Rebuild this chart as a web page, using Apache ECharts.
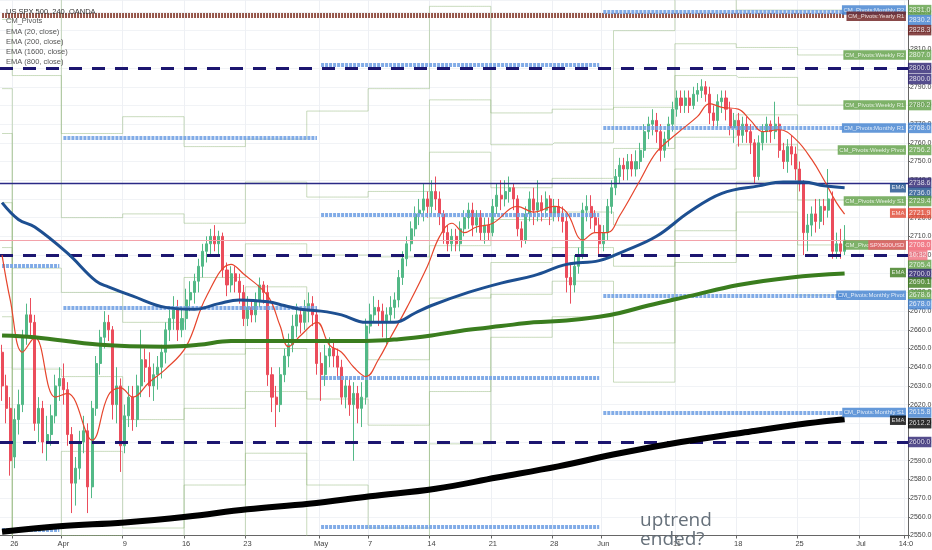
<!DOCTYPE html>
<html>
<head>
<meta charset="utf-8">
<title>US SPX 500, 240, OANDA</title>
<script src="https://cdn.jsdelivr.net/npm/echarts/dist/echarts.min.js"></script>
<style>
  html, body { margin: 0; padding: 0; background: #fff; }
  #chart { width: 932px; height: 550px; }
</style>
</head>
<body>
<div id="chart"></div>
<script>
//----- SPX500 4h chart with CM_Pivots and EMAs

// time axis: 3 bars per trading day, Mar 23 .. Jul 5 (222 bars)
var barCount = 222;
var tickBars = [3, 15, 30, 45, 60, 78, 90, 105, 120, 135, 147, 165, 180, 195, 210, 221];
var tickNames = ['26', 'Apr', '9', '16', '23', 'May', '7', '14', '21', '28', 'Jun', '11', '18', '25', 'Jul', '14:0'];

// [open, close, low, high], one line per trading day
var candles = [
  [2648,2630,2622,2652],[2630,2618,2610,2636],[2618,2590,2582,2624], // Mar 23
  [2592,2612,2586,2618],[2612,2620,2604,2628],[2620,2656,2616,2660], // Mar 26
  [2656,2668,2652,2674],[2668,2664,2656,2677],[2664,2610,2606,2668],
  [2610,2618,2600,2624],[2618,2600,2594,2622],[2600,2604,2590,2614],
  [2604,2614,2598,2620],[2614,2630,2610,2636],[2630,2634,2622,2640],
  [2634,2628,2620,2642],[2628,2604,2598,2632],[2604,2578,2562,2608], // Apr 2
  [2578,2586,2566,2592],[2586,2600,2580,2606],[2600,2606,2594,2614],
  [2606,2576,2562,2610],[2576,2618,2570,2622],[2618,2642,2614,2646],
  [2642,2656,2636,2660],[2656,2664,2650,2670],[2664,2660,2654,2668],
  [2660,2620,2612,2662],[2620,2630,2610,2640],[2630,2598,2584,2634],
  [2598,2614,2594,2620],[2614,2624,2608,2630],[2624,2612,2606,2630], // Apr 9
  [2612,2630,2608,2636],[2630,2644,2624,2660],[2644,2640,2632,2650],
  [2640,2630,2624,2648],[2630,2636,2622,2642],[2636,2640,2628,2646],
  [2640,2648,2634,2652],[2648,2660,2642,2664],[2660,2666,2654,2672],
  [2666,2672,2660,2678],[2672,2660,2654,2676],[2660,2666,2656,2672],
  [2666,2676,2660,2682],[2676,2680,2670,2686],[2680,2686,2674,2690], // Apr 16
  [2686,2694,2680,2698],[2694,2702,2688,2706],[2702,2706,2696,2710],
  [2706,2710,2700,2714],[2710,2706,2702,2716],[2706,2710,2700,2713],
  [2710,2692,2688,2712],[2692,2684,2678,2696],[2684,2690,2680,2694],
  [2690,2686,2680,2694],[2686,2680,2674,2690],[2680,2666,2662,2684],
  [2666,2672,2662,2678],[2672,2668,2664,2676],[2668,2676,2664,2680], // Apr 23
  [2676,2684,2672,2688],[2684,2680,2674,2686],[2680,2636,2630,2684],
  [2636,2624,2616,2640],[2624,2620,2608,2630],[2620,2636,2616,2640],
  [2636,2646,2632,2650],[2646,2652,2640,2658],[2652,2662,2648,2668],
  [2662,2668,2656,2674],[2668,2664,2658,2672],[2664,2670,2660,2676],
  [2670,2674,2664,2680],[2674,2668,2662,2678],[2668,2642,2636,2672], // Apr 30
  [2642,2636,2622,2648],[2636,2646,2630,2652],[2646,2650,2640,2656],
  [2650,2646,2640,2654],[2646,2640,2634,2650],[2640,2624,2620,2644],
  [2624,2630,2618,2634],[2630,2620,2614,2634],[2620,2626,2590,2632],
  [2626,2618,2610,2630],[2618,2624,2608,2632],[2624,2662,2620,2666],
  [2662,2668,2658,2674],[2668,2672,2664,2678],[2672,2670,2662,2676], // May 7
  [2670,2664,2656,2674],[2664,2668,2652,2672],[2668,2672,2664,2678],
  [2672,2676,2666,2680],[2676,2688,2672,2692],[2688,2698,2684,2702],
  [2698,2706,2694,2710],[2706,2714,2702,2718],[2714,2722,2710,2726],
  [2722,2724,2716,2730],[2724,2730,2718,2738],[2730,2726,2720,2734],
  [2726,2734,2722,2740],[2734,2730,2724,2742],[2730,2722,2716,2734], // May 14
  [2722,2712,2706,2724],[2712,2706,2702,2716],[2706,2710,2702,2714],
  [2710,2706,2702,2714],[2706,2714,2702,2718],[2714,2720,2710,2724],
  [2720,2724,2714,2728],[2724,2716,2710,2728],[2716,2720,2712,2724],
  [2720,2712,2708,2724],[2712,2716,2706,2720],[2716,2712,2708,2720],
  [2712,2726,2710,2730],[2726,2732,2722,2738],[2732,2730,2724,2740], // May 21
  [2730,2734,2726,2740],[2734,2736,2728,2742],[2736,2730,2724,2738],
  [2730,2714,2710,2732],[2714,2708,2704,2718],[2708,2722,2706,2726],
  [2722,2730,2718,2734],[2730,2724,2716,2736],[2724,2728,2718,2740],
  [2728,2724,2718,2732],[2724,2730,2720,2734],[2730,2722,2716,2732],
  [2722,2726,2718,2730],[2726,2722,2718,2730],[2722,2718,2712,2726], // May 28
  [2718,2688,2680,2722],[2688,2684,2674,2696],[2684,2694,2680,2700],
  [2694,2700,2690,2704],[2700,2724,2698,2728],[2724,2726,2718,2732],
  [2726,2720,2714,2732],[2720,2716,2712,2724],[2716,2706,2700,2720],
  [2706,2712,2702,2716],[2712,2726,2708,2730],[2726,2736,2722,2740],
  [2736,2742,2732,2746],[2742,2748,2738,2752],[2748,2746,2740,2752], // Jun 4
  [2746,2750,2740,2754],[2750,2746,2742,2754],[2746,2750,2742,2756],
  [2750,2756,2746,2760],[2756,2766,2752,2770],[2766,2770,2762,2774],
  [2770,2772,2764,2778],[2772,2766,2760,2776],[2766,2756,2750,2770],
  [2756,2762,2752,2766],[2762,2770,2758,2774],[2770,2778,2766,2782],
  [2778,2784,2774,2788],[2784,2780,2776,2788],[2780,2784,2776,2788], // Jun 11
  [2784,2780,2776,2788],[2780,2786,2778,2790],[2786,2788,2782,2792],
  [2788,2790,2784,2794],[2790,2786,2782,2793],[2786,2776,2770,2790],
  [2776,2772,2768,2780],[2772,2782,2768,2786],[2782,2784,2776,2788],
  [2784,2778,2772,2788],[2778,2768,2764,2782],[2768,2772,2760,2776],
  [2772,2764,2758,2776],[2764,2770,2760,2774],[2770,2766,2760,2774], // Jun 18
  [2766,2760,2754,2770],[2760,2742,2738,2762],[2742,2760,2740,2764],
  [2760,2766,2756,2770],[2766,2770,2760,2774],[2770,2766,2760,2772],
  [2766,2770,2762,2782],[2770,2756,2752,2774],[2756,2750,2746,2760],
  [2750,2758,2744,2762],[2758,2754,2748,2764],[2754,2746,2740,2758],
  [2746,2738,2734,2750],[2738,2712,2700,2740],[2712,2716,2702,2722], // Jun 25
  [2716,2722,2710,2726],[2722,2718,2712,2730],[2718,2726,2714,2730],
  [2726,2724,2716,2730],[2724,2730,2720,2746],[2730,2702,2698,2734],
  [2702,2706,2698,2712],[2706,2702,2698,2714],[2702,2708,2700,2716]
];

// EMA readings [bar, price]
var ema20 = [[0,2700],[2,2676],[5,2648],[8,2656],[13,2624],[16,2626],[22,2601],[26,2625],[29,2629],[32,2624],
  [36,2632],[40,2639],[45,2651],[50,2678],[56,2695],[59,2690],[65,2678],[68,2662],[70,2651],[73,2657],
  [77,2664],[80,2652],[83,2648],[86,2640],[89,2635],[92,2644],[95,2656],[99,2672],[104,2694],[107,2710],
  [110,2717],[113,2712],[116,2715],[120,2717],[126,2726],[130,2723],[135,2726],[138,2723],[142,2708],[145,2712],
  [148,2712],[151,2721],[156,2740],[160,2755],[165,2765],[170,2774],[173,2781],[176,2779],[180,2778],[183,2772],
  [186,2766],[190,2767],[194,2762],[198,2751],[201,2740],[204,2728],[206,2721.9]];
var ema200 = [[0,2728],[4,2719],[8,2715],[16,2701],[23,2686],[26,2683],[32,2678],[40,2672],[47,2671],[53,2674],
  [58,2676],[65,2675],[69,2673],[73,2671],[78,2670],[83,2668],[89,2664],[96,2664],[101,2669],[105,2673],
  [114,2680],[122,2685],[130,2689],[138,2695],[146,2697],[152,2702],[160,2710],[168,2723],[176,2733],[185,2737],
  [191,2739],[196,2739],[201,2737],[206,2736.0]];
var ema800 = [[0,2657],[8,2656],[24,2652],[40,2651],[48,2652],[56,2654],[73,2654],[89,2654],[97,2655],[105,2657],
  [114,2660],[122,2662],[130,2664],[138,2665],[146,2667],[151,2669],[158,2673],[168,2678],[180,2684],[193,2688],
  [206,2690.1]];
var ema1600 = [[0,2552],[14,2555],[30,2557],[45,2560],[60,2564],[75,2567],[90,2571],[106,2575],[121,2581],[136,2587],
  [151,2594],[166,2600],[181,2605],[197,2610],[206,2612.2]];

// weekly pivots, one value per week
var weekStarts = [0, 3, 15, 30, 45, 60, 75, 90, 105, 120, 135, 150, 165, 180, 195];
var weekR3 = [2850, 2850, 2765, 2774, 2758, 2762, 2777, 2789, 2833, 2776, 2778, 2820, 2846, 2831, 2831.0];
var weekR2 = [2826, 2796, 2720, 2722, 2717, 2739, 2731, 2734, 2783, 2759, 2760, 2779, 2813, 2811, 2807.0];
var weekR1 = [2789, 2693, 2680, 2664, 2688, 2706, 2700, 2699, 2755, 2736, 2741, 2757, 2796, 2795, 2780.2];
var weekP  = [2765, 2639, 2635, 2612, 2647, 2683, 2654, 2644, 2705, 2719, 2723, 2716, 2763, 2775, 2756.2];
var weekS1 = [2728, 2536, 2595, 2554, 2618, 2650, 2623, 2609, 2677, 2696, 2704, 2694, 2746, 2759, 2729.4];
var weekS2 = [2704, 2482, 2550, 2502, 2577, 2627, 2577, 2554, 2627, 2679, 2686, 2653, 2713, 2739, 2705.4];
var weekS3 = [2667, 2379, 2510, 2444, 2548, 2594, 2546, 2519, 2599, 2656, 2667, 2632, 2696, 2723, 2678.6];
var lastBar = 206;

// monthly / yearly pivots
var monthStarts = [0, 15, 78, 147];
var monthEnds = [14, 77, 146, 206];
var monthLevels = [[2694.5, 2553.0], [2762.6, 2671.7], [2801.6, 2721.4, 2634.2, 2554.5], [2830.2, 2768.0, 2678.0, 2615.8]];
var yearlyR1 = 2828.3;

// horizontal lines
var roundLevels = [2800, 2700, 2600];
var drawnLevel = 2738.6;
var lastPrice = 2708.0;
var countdown = '10:32';

// right scale tags
var valueTagPrices = [2831.0, 2830.2, 2828.3, 2807.0, 2800.0, 2800.0, 2780.2, 2768.0, 2756.2, 2738.6, 2736.0,
  2729.4, 2721.9, 2705.4, 2700.0, 2690.1, 2678.6, 2678.0, 2615.8, 2612.2, 2600.0, 2708.0];
var nameTagTexts = ['CM_Pivots:Monthly R2', 'CM_Pivots:Yearly R1', 'CM_Pivots:Weekly R2', 'CM_Pivots:Weekly R1',
  'CM_Pivots:Monthly R1', 'CM_Pivots:Weekly Pivot', 'EMA', 'CM_Pivots:Weekly S1', 'EMA', 'CM_Pivots:Weekly S2',
  'SPX500USD', 'EMA', 'CM_Pivots:Monthly Pivot', 'CM_Pivots:Monthly S1', 'EMA'];
var nameTagPrices = [2830.2, 2828.3, 2807.0, 2780.2, 2768.0, 2756.2, 2736.0, 2729.4, 2721.9, 2705.4, 2708.0,
  2690.1, 2678.0, 2615.8, 2612.2];

// tag styles (kept apart from the values)
var GREEN = '#5e9f43', BLUE = '#3f7fd0', NAVY = '#2a2070', BROWN = '#6b1c1c';
var valueTagBg = [GREEN, BLUE, BROWN, GREEN, NAVY, NAVY, GREEN, BLUE, GREEN, NAVY, '#1b4f8c',
  GREEN, '#e0452f', GREEN, NAVY, '#3a7a1a', GREEN, BLUE, BLUE, '#000', NAVY, '#ef5a6a'];
var valueTagShift = [0, 8.5, 15, 0, 0, 11, 0, 0, 0, 0, 5, 1, -1, 20, 19, 9, 0, 8, 0, 4, 0, 5];
var nameTagBg = [BLUE, BROWN, GREEN, GREEN, BLUE, GREEN, '#1b4f8c', GREEN, '#e0452f', GREEN, '#ef5a6a',
  '#3a7a1a', BLUE, BLUE, '#000'];
var nameTagShift = [-1.5, 1, 0, 0, 0, 0, 0, 1, -1, 0, 5, -1, -1, 0, 1];

var FONT = "'Liberation Sans Narrow','Liberation Sans',sans-serif";

var cats = [];
for (var i = 0; i < barCount; i++) cats.push('b' + i);

function isTick(idx) { return tickBars.indexOf(idx) >= 0; }

function weekSeries(levels) {
  var out = [];
  for (var b = 0; b <= lastBar; b++) {
    var w = 0;
    while (w + 1 < weekStarts.length && weekStarts[w + 1] <= b) w++;
    out.push(levels[w]);
  }
  return {
    type: 'line', data: out, step: 'middle', symbol: 'none', silent: true, z: 1,
    lineStyle: { color: 'rgba(150,185,125,0.5)', width: 1 }
  };
}

var monthLines = [];
monthLevels.forEach(function (lv, m) {
  lv.forEach(function (v) {
    monthLines.push([{ coord: [monthStarts[m], v] }, { coord: [monthEnds[m], v] }]);
  });
});

var levelLines = roundLevels.map(function (v) {
  return { yAxis: v, lineStyle: { color: '#1c1670', width: 3, type: [13, 10] } };
});
levelLines.push({ yAxis: drawnLevel, lineStyle: { color: '#2a2a86', width: 1.4, type: 'solid' } });
levelLines.push({ yAxis: lastPrice, lineStyle: { color: '#f3a2aa', width: 1, type: 'solid' } });

function tag(price, text, bg, shift, right, size) {
  return {
    value: [barCount - 1, price],
    label: {
      show: true, position: right ? 'right' : 'left', distance: right ? 2 : 0, offset: [0, shift],
      formatter: text, backgroundColor: bg, color: '#fff', padding: right ? [2, 1, 1.5, 1] : [2, 1.5, 1.5, 1.5],
      fontSize: size, fontFamily: FONT
    }
  };
}

var tags = [];
nameTagTexts.forEach(function (t, k) {
  tags.push(tag(nameTagPrices[k], t, nameTagBg[k], nameTagShift[k], false, 6));
});
valueTagPrices.forEach(function (p, k) {
  tags.push(tag(p, p.toFixed(1), valueTagBg[k], valueTagShift[k], true, 7));
});
tags.push(tag(lastPrice, countdown, '#f07080', 15, true, 7));

function emaLine(data, color, width, z) {
  return {
    type: 'line', data: data, symbol: 'none', smooth: 0.4, silent: true, z: z,
    lineStyle: { color: color, width: width }
  };
}

var dom = document.getElementById('chart');
var myChart = echarts.init(dom);

var option = {
  animation: false,
  backgroundColor: '#fff',
  title: {
    text: 'US SPX 500, 240, OANDA',
    subtext: 'CM_Pivots\nEMA (20, close)\nEMA (200, close)\nEMA (1600, close)\nEMA (800, close)',
    left: 1, top: 3, itemGap: 0,
    textStyle: { fontSize: 7.5, fontWeight: 'normal', color: '#333', fontFamily: FONT },
    subtextStyle: { fontSize: 7.5, color: '#555', lineHeight: 10.3, fontFamily: FONT }
  },
  grid: { left: 0, right: 24, top: 0, bottom: 14.5, containLabel: false, outerBoundsMode: 'none' },
  xAxis: {
    type: 'category', data: cats, boundaryGap: true,
    axisLine: { lineStyle: { color: '#666' } },
    axisTick: { show: true, length: 3, interval: isTick, lineStyle: { color: '#666' } },
    axisLabel: {
      interval: isTick, fontSize: 7.5, color: '#444', margin: 4, fontFamily: FONT,
      formatter: function (v, idx) { var k = tickBars.indexOf(idx); return k >= 0 ? tickNames[k] : ''; }
    },
    splitLine: { show: true, interval: isTick, lineStyle: { color: '#eef0f4' } }
  },
  yAxis: {
    type: 'value', position: 'right', min: 2550, max: 2836.4, interval: 10,
    axisLine: { show: true, lineStyle: { color: '#666' } },
    axisTick: { show: true, length: 2, lineStyle: { color: '#666' } },
    axisLabel: {
      fontSize: 7, color: '#444', margin: 2, showMaxLabel: false, fontFamily: FONT,
      formatter: function (v) { return v.toFixed(1); }
    },
    splitLine: { show: true, lineStyle: { color: '#f1f3f6' } }
  },
  series: [
    weekSeries(weekR3), weekSeries(weekR2), weekSeries(weekR1), weekSeries(weekP),
    weekSeries(weekS1), weekSeries(weekS2), weekSeries(weekS3),
    {
      type: 'line', data: [], symbol: 'none', silent: true, z: 3,
      markLine: { silent: true, symbol: ['none', 'none'], label: { show: false }, data: levelLines }
    },
    {
      type: 'candlestick', data: candles, barWidth: '62%', silent: true, z: 4,
      itemStyle: { color: '#53b987', color0: '#eb4d5c', borderColor: '#53b987', borderColor0: '#eb4d5c', borderWidth: 1 },
      markPoint: {
        symbolSize: 0, silent: true,
        data: [{
          coord: [156, 2553],
          label: {
            show: true, position: 'right', distance: 0, formatter: 'uptrend\nended?',
            fontSize: 19, lineHeight: 19, color: '#66707a', fontFamily: "'Open Sans',sans-serif"
          }
        }]
      }
    },
    {
      type: 'line', data: [], symbol: 'none', silent: true, z: 5,
      markLine: {
        silent: true, symbol: ['none', 'none'], label: { show: false },
        lineStyle: { color: '#74a3e4', width: 4, type: [3, 1], opacity: 0.9 },
        data: [[{ coord: [0, yearlyR1], lineStyle: { color: '#8a4436', width: 5, type: [2, 1], opacity: 0.9 } },
                { coord: [lastBar, yearlyR1] }]].concat(monthLines)
      }
    },
    emaLine(ema20, '#e6452c', 1.2, 6),
    emaLine(ema800, '#3a7d1e', 4, 7),
    emaLine(ema200, '#1d4f91', 3, 8),
    emaLine(ema1600, '#000', 6, 9),
    {
      type: 'scatter', data: tags, symbolSize: 0, silent: true, z: 20, clip: false
    }
  ]
};

if (option && typeof option === 'object') {
  myChart.setOption(option, true);
}
</script>
</body>
</html>
